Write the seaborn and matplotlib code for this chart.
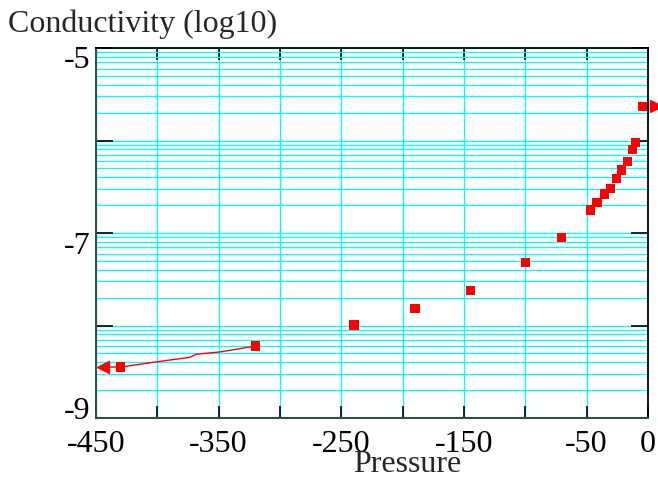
import numpy as np
import pandas as pd
import seaborn as sns
import matplotlib.pyplot as plt
import matplotlib.transforms as mtransforms

# measured points (pressure vs log10 conductivity)
pressure = [-429.9, -320.1, -239.7, -190.0, -144.9, -99.7, -70.4, -46.7,
            -41.6, -35.3, -30.4, -25.6, -21.5, -16.6, -12.8, -10.0, -4.7]
log_cond = [-8.45, -8.22, -7.995, -7.814, -7.62, -7.321, -7.05, -6.75,
            -6.67, -6.58, -6.52, -6.41, -6.32, -6.23, -6.10, -6.02, -5.63]

# fitted curve on the low pressure side
curve_p = [-446.0, -429.9, -403.3, -373.4, -368.5, -348.9, -320.1]
curve_c = [-8.45, -8.449, -8.398, -8.344, -8.311, -8.286, -8.222]

# off-scale arrows
arrow_left = (-444.0, -8.45)
arrow_right = (6.5, -5.63)

x_ticks = list(range(-450, 1, 50))
x_labels = ["-450", "", "-350", "", "-250", "", "-150", "", "-50", "0"]
y_ticks = [-9, -8, -7, -6, -5]
y_labels = ["-9", "", "-7", "", "-5"]

sns.set_theme(style="white")
plt.rcParams["font.family"] = ["Liberation Serif", "DejaVu Serif"]
plt.rcParams["axes.unicode_minus"] = False

fig = plt.figure(figsize=(6.58, 4.8), dpi=100)
ax = fig.add_axes([96 / 658, 1 - 418 / 480, 552 / 658, 370 / 480])

pts = pd.DataFrame({"Pressure": pressure, "cond": log_cond})
curve = pd.DataFrame({"Pressure": curve_p, "cond": curve_c})

sns.lineplot(data=curve, x="Pressure", y="cond", sort=False, color="#ff0000",
             linewidth=1.0, ax=ax, zorder=4)
sns.scatterplot(data=pts, x="Pressure", y="cond", marker="s", s=46,
                color="#ff0000", edgecolor="none", ax=ax, zorder=5)
ax.plot(*arrow_left, marker="<", markersize=8.5, color="#ff0000", zorder=5)
ax.plot(*arrow_right, marker=">", markersize=8, color="#ff0000", zorder=5,
        clip_on=False)

ax.set_xlim(-450, 0)
ax.set_ylim(-9, -5)

# log-style minor grid inside each unit
minor = [n + np.log10(k) for n in range(-9, -5) for k in range(2, 10)]
ax.set_yticks(y_ticks, y_labels)
ax.set_yticks(minor, minor=True)
ax.set_xticks(x_ticks, x_labels)

ax.grid(True, which="both", color="#00ffff", linewidth=0.9)
ax.set_axisbelow(True)

ax.tick_params(axis="y", which="major", direction="in", length=12.5, width=1.2,
               left=True, right=True, pad=4, labelsize=23, colors="black")
ax.tick_params(axis="y", which="minor", length=0)
ax.tick_params(axis="x", which="major", direction="in", length=8.5, width=1.2,
               top=True, bottom=True, pad=9, labelsize=23, colors="black")
for t in ax.yaxis.get_ticklines():
    t.set_color("#2f4f4f")

for side in ["top", "right"]:
    ax.spines[side].set_color("black")
    ax.spines[side].set_linewidth(1.3)
for side in ["left", "bottom"]:
    ax.spines[side].set_color("#2f4f4f")
    ax.spines[side].set_linewidth(1.5)

# the old plotting software offsets some y labels
shifts = {"-5": -9, "-7": -10, "-9": 10}
for lab in ax.get_yticklabels():
    dy = shifts.get(lab.get_text(), 0)
    off = mtransforms.ScaledTranslation(0, dy / 100, fig.dpi_scale_trans)
    lab.set_transform(lab.get_transform() + off)

ax.set_xlabel("")
ax.set_ylabel("")
fig.text(353 / 658, 1 - 472 / 480, "Pressure", fontsize=23, va="baseline",
         ha="left")
fig.text(8 / 658, 1 - 32 / 480, "Conductivity (log10)", fontsize=23,
         va="baseline", ha="left")

fig.savefig("out.png", dpi=100)
